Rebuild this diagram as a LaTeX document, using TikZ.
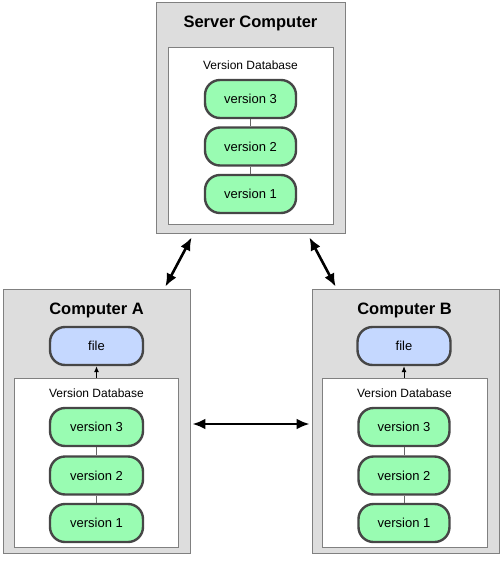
\documentclass[tikz,border=0pt]{standalone}
\usepackage{fontspec}
\setmainfont{Liberation Sans}
\usepackage{tikz}
\usetikzlibrary{arrows.meta, calc}
\definecolor{vgreen}{RGB}{153,252,178}
\definecolor{fblue}{RGB}{197,216,255}
\definecolor{boxgray}{RGB}{221,221,221}
\definecolor{pillline}{RGB}{70,70,70}
\begin{document}
\begin{tikzpicture}[x=1pt, y=-1pt,
  machine/.style={draw=black!50, fill=boxgray, line width=0.8pt, inner sep=0pt},
  database/.style={draw=black!50, fill=white, line width=0.8pt, inner sep=0pt},
  version/.style={draw=pillline, fill=vgreen, line width=2.4pt, rounded corners=15pt,
    minimum width=91pt, minimum height=38pt, inner sep=0pt, font=\fontsize{13}{15}\selectfont},
  workfile/.style={version, fill=fblue, minimum width=93pt},
  title/.style={font=\fontsize{16.5}{19}\selectfont\bfseries},
  dblabel/.style={font=\fontsize{12}{14}\selectfont},
  link/.style={draw=black!60, line width=0.8pt},
  sync/.style={{Latex[length=13pt,width=11pt]}-{Latex[length=13pt,width=11pt]}, line width=2.6pt},
  checkout/.style={-{Latex[length=6pt,width=5pt]}, line width=0.9pt}]
\useasboundingbox (0,0) rectangle (500,563);
% server
\node[machine, minimum width=189pt, minimum height=231pt] (server) at (250.5,117.5) {};
\node[database, minimum width=165pt, minimum height=177pt] (sdb) at (250.5,135.5) {};
\path
(250.5,23) node[title] (stitle) {Server Computer};
\path
(250.5,65) node[dblabel] (slabel) {Version Database};
\foreach \v/\y in {3/99,2/146.5,1/194} \node[version] (s\v) at (250.5,\y) {version \v};
\draw[link] (s3)--(s2);
\draw[link] (s2)--(s1);
% computer A
\node[machine, minimum width=187pt, minimum height=264pt] (compA) at (96.5,421) {};
\node[database, minimum width=164pt, minimum height=169pt] (adb) at (96,462.5) {};
\path
(96.5,310) node[title] (atitle) {Computer A};
\path
(96.5,393) node[dblabel] (alabel) {Version Database};
\node[workfile] (afile) at (96.5,346) {file};
\foreach \v/\y in {3/427,2/475.5,1/523} \node[version, minimum width=93pt] (a\v) at (96.5,\y) {version \v};
\draw[link] (a3)--(a2);
\draw[link] (a2)--(a1);
\draw[checkout] (adb.north -| afile.south)--(afile.south);
% computer B
\node[machine, minimum width=187pt, minimum height=264pt] (compB) at (405.5,421) {};
\node[database, minimum width=165pt, minimum height=169pt] (bdb) at (404.5,462.5) {};
\path
(404.5,310) node[title] (btitle) {Computer B};
\path
(404.5,393) node[dblabel] (blabel) {Version Database};
\node[workfile] (bfile) at (404,346) {file};
\foreach \v/\y in {3/427,2/475.5,1/523} \node[version] (b\v) at (404,\y) {version \v};
\draw[link] (b3)--(b2);
\draw[link] (b2)--(b1);
\draw[checkout] (bdb.north -| bfile.south)--(bfile.south);
% sync arrows
\draw[sync] ([xshift=36pt,yshift=-4pt]server.south west)--([xshift=-25pt,yshift=2pt]compA.north east);
\draw[sync] ([xshift=-36pt,yshift=-4pt]server.south east)--([xshift=24pt,yshift=2pt]compB.north west);
\draw[sync] ([xshift=2pt,yshift=-3pt]compA.east)--([xshift=-2pt,yshift=-3pt]compB.west);
\end{tikzpicture}
\end{document}
